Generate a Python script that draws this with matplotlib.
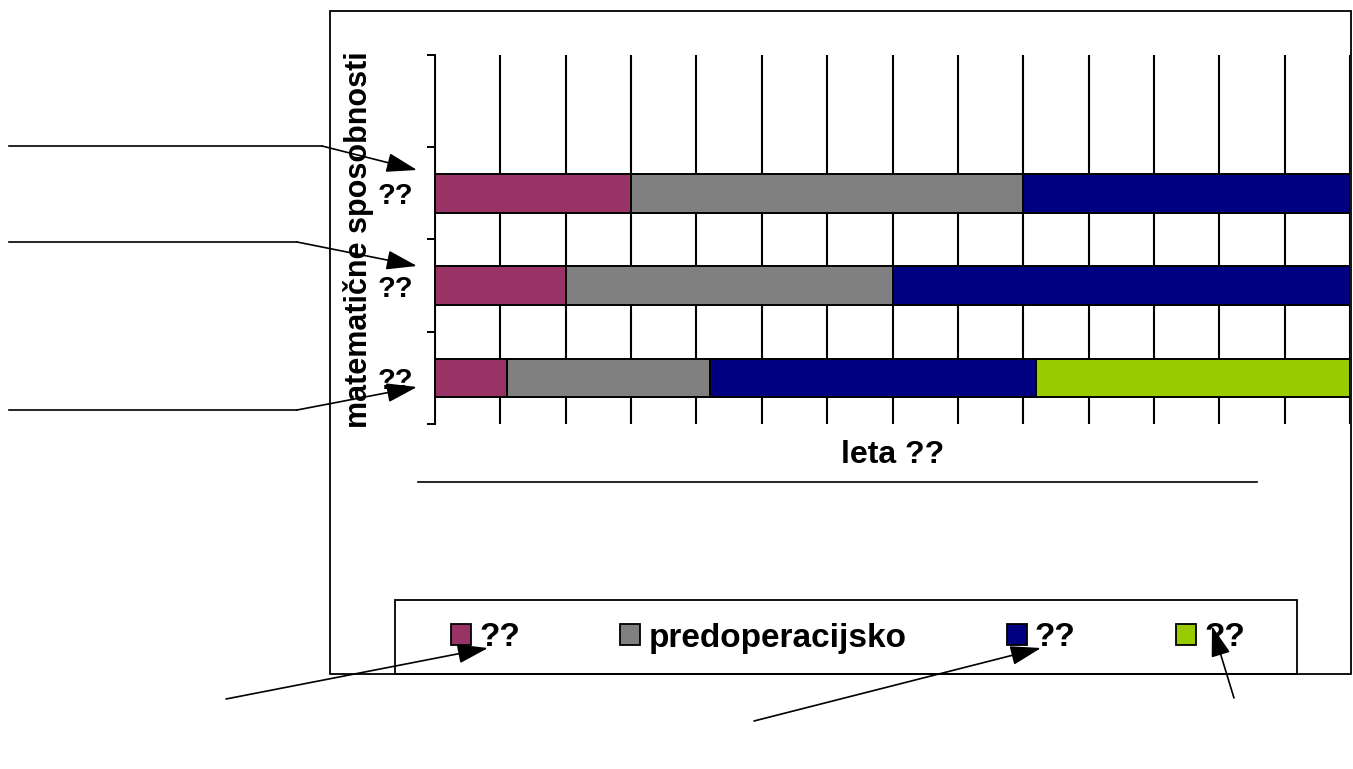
import matplotlib.pyplot as plt
from matplotlib.patches import Rectangle, Patch
from matplotlib.lines import Line2D

# ---- data ----
categories = ['??', '??', '??']            # bottom -> top
stages = ['??', 'predoperacijsko', '??', '??']
colors = ['#993366', '#808080', '#000080', '#99CC00']
# length of every stage (years) for each row, bottom -> top
stage_1 = [1.1, 2.0, 3.0]
stage_2 = [3.1, 5.0, 6.0]
stage_3 = [5.0, 7.0, 5.0]
stage_4 = [4.8, 0.0, 0.0]
years_max = 14

W, H = 1353, 769
plt.rcParams['font.family'] = ['Liberation Sans', 'DejaVu Sans']
plt.rcParams['font.weight'] = 'bold'

fig = plt.figure(figsize=(W / 100, H / 100), dpi=100)
fig.patch.set_facecolor('white')


def fx(px):
    return px / W


def fy(py):
    return 1 - py / H


# outer chart frame
fig.patches.append(Rectangle((fx(330), fy(674)), fx(1351) - fx(330), fy(11) - fy(674),
                             transform=fig.transFigure, fill=False, ec='black', lw=1.3))

ax = fig.add_axes([fx(435), fy(424), (1350 - 435) / W, (424 - 55) / H])
ax.set_axisbelow(True)

pos = [i + 0.5 for i in range(len(categories))]
left = [0.0] * len(categories)
for vals, col, name in zip([stage_1, stage_2, stage_3, stage_4], colors, stages):
    ax.barh(pos, vals, left=left, height=0.42, color=col, edgecolor='black', lw=1.4, label=name)
    left = [l + v for l, v in zip(left, vals)]

ax.set_xlim(0, years_max)
ax.set_ylim(0, 4)
ax.set_xticks(range(0, years_max + 1))
ax.set_xticklabels([])
ax.tick_params(axis='x', length=0)
ax.grid(axis='x', color='black', lw=1.5)

ax.set_yticks(range(0, 5))
ax.set_yticklabels([])
ax.tick_params(axis='y', which='major', length=6, width=1.4, direction='out')
ax.set_yticks(pos, minor=True)
ax.set_yticklabels(categories, minor=True, fontsize=21, fontweight='bold')
ax.tick_params(axis='y', which='minor', length=0, pad=16)

for s in ['top', 'right', 'bottom']:
    ax.spines[s].set_visible(False)
ax.spines['left'].set_linewidth(1.4)

ax.text(-0.084, 0.5, 'matematične sposobnosti', rotation=90, transform=ax.transAxes,
        ha='center', va='center', fontsize=22, fontweight='bold')
ax.text(0.5, -0.085, 'leta ??', transform=ax.transAxes,
        ha='center', va='center', fontsize=23, fontweight='bold')

# line under the axis title
fig.lines.append(Line2D([fx(418), fx(1257)], [fy(482), fy(482)], transform=fig.transFigure,
                        color='black', lw=1.2))

# legend box and legend
fig.patches.append(Rectangle((fx(395), fy(674)), fx(1297) - fx(395), fy(600) - fy(674),
                             transform=fig.transFigure, fill=False, ec='black', lw=1.3))
handles = [Patch(facecolor=c, edgecolor='black', lw=1.3) for c in colors]
fig.legend(handles, stages, loc='center', bbox_to_anchor=(fx(848), fy(638)), ncol=4,
           frameon=False, prop={'size': 24, 'weight': 'bold'}, handlelength=0.6,
           handleheight=0.6, handletextpad=0.25, columnspacing=3.0, borderpad=0)

# callout lines with arrows
arrow = dict(arrowstyle='-|>,head_length=0.95,head_width=0.3', mutation_scale=20,
             color='black', lw=1.2, shrinkA=0, shrinkB=0)
callouts = [
    ((9, 146), (322, 146), (417, 170)),
    ((9, 242), (297, 242), (417, 266)),
    ((9, 410), (297, 410), (417, 387)),
]
for a, b, tip in callouts:
    fig.lines.append(Line2D([fx(a[0]), fx(b[0])], [fy(a[1]), fy(b[1])],
                            transform=fig.transFigure, color='black', lw=1.2))
    fig.add_artist(plt.Annotation('', xy=(fx(tip[0]), fy(tip[1])), xytext=(fx(b[0]), fy(b[1])),
                                  xycoords='figure fraction', textcoords='figure fraction',
                                  arrowprops=arrow))
for start, tip in [((226, 699), (488, 648)), ((754, 721), (1041, 648)), ((1234, 698), (1212, 626))]:
    fig.add_artist(plt.Annotation('', xy=(fx(tip[0]), fy(tip[1])), xytext=(fx(start[0]), fy(start[1])),
                                  xycoords='figure fraction', textcoords='figure fraction',
                                  arrowprops=arrow))

fig.savefig('out.png', dpi=100)
